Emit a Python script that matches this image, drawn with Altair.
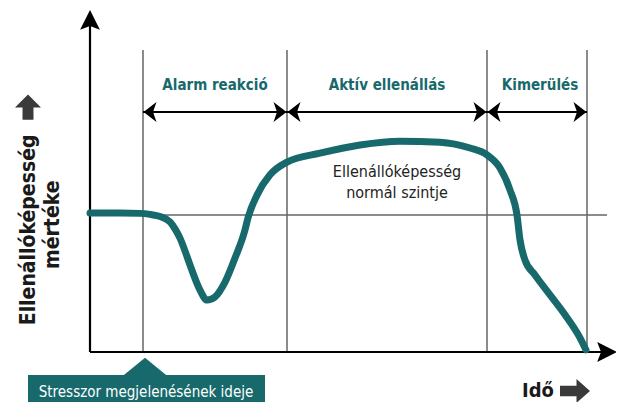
import altair as alt
import pandas as pd

# ---------------- data (time units / resistance-level units) ----------------
curve_t = [0, 6, 10, 12, 14, 16, 17, 18, 19, 20, 22, 23.4, 25, 27, 29, 31, 31.6, 33.4, 36,
           39.4, 46, 54, 62, 70, 76, 79.4, 82, 84, 85.4, 86, 87, 89, 92, 95, 98, 99.2]
curve_L = [40.4, 40.4, 40.3, 40.0, 39.4, 37.8, 35.8, 33.1, 29.4, 25.3, 18.0, 15.1, 16.0,
           20.3, 27.3, 35.5, 39.0, 45.6, 51.5, 55.2, 57.8, 60.2, 61.3, 61.0, 59.3, 57.3,
           53.5, 47.1, 39.8, 32.6, 26.7, 22.4, 16.6, 10.8, 4.1, 0.6]

divider_t = [10.6, 39.4, 79.4, 99.4]
divider_top = 87.8
normal_level = 39.8
normal_end = 103.4

phase_labels = ["Alarm reakció", "Aktív ellenállás", "Kimerülés"]
phase_start = [10.6, 39.4, 79.4]
phase_end = [39.4, 79.4, 99.4]
phase_label_t = [25, 59.4, 90]
phase_label_L = 77.6
phase_arrow_L = 69.8

normal_text = ["Ellenállóképesség", "normál szintje"]
normal_text_t = [61.4, 61.4]
normal_text_L = [52.3, 46.2]

ylabel_lines = ["Ellenállóképesség", "mértéke"]
ylabel_t = [-12.2, -7.4]
ylabel_L = [35.5, 37.0]

xlabel = "Idő"
stress_label = "Stresszor megjelenésének ideje"
stress_t = 11.0

TEAL = "#17696c"
GRAY = "#666666"
FONT = "DejaVu Sans Condensed, Liberation Sans Narrow, DejaVu Sans"

XS = alt.Scale(domain=[-16.4, 105.2], nice=False, zero=False)
YS = alt.Scale(domain=[-14.53, 100], nice=False, zero=False)


def X(f):
    return alt.X(f, type="quantitative", scale=XS, axis=None)


def Y(f):
    return alt.Y(f, type="quantitative", scale=YS, axis=None)


layers = []

# vertical dividers
div_df = pd.DataFrame({"t": divider_t, "y0": [0] * 4, "y1": [divider_top] * 4})
layers.append(alt.Chart(div_df).mark_rule(color=GRAY, strokeWidth=1.5).encode(
    x=X("t"), y=Y("y0"), y2="y1"))

# normal level line
norm_df = pd.DataFrame({"t0": [0], "t1": [normal_end], "L": [normal_level]})
layers.append(alt.Chart(norm_df).mark_rule(color=GRAY, strokeWidth=1.5).encode(
    x=X("t0"), x2="t1", y=Y("L")))

# axes
ax_df = pd.DataFrame({"t0": [0, 0], "t1": [102.5, 0], "L0": [0, 0], "L1": [0, 95.5]})
layers.append(alt.Chart(ax_df).mark_rule(color="black", strokeWidth=2.2).encode(
    x=X("t0"), x2="t1", y=Y("L0"), y2="L1"))

UP_HEAD = "M0,-1 L0.9,0.8 L0,0.45 L-0.9,0.8 Z"
RIGHT_HEAD = "M1,0 L-0.8,-0.9 L-0.45,0 L-0.8,0.9 Z"
layers.append(alt.Chart(pd.DataFrame({"t": [0], "L": [96.2]})).mark_point(
    shape=UP_HEAD, size=484, filled=True, color="black", opacity=1).encode(x=X("t"), y=Y("L")))
layers.append(alt.Chart(pd.DataFrame({"t": [103.2], "L": [0]})).mark_point(
    shape=RIGHT_HEAD, size=484, filled=True, color="black", opacity=1).encode(x=X("t"), y=Y("L")))

# phase double arrows
ph_df = pd.DataFrame({"label": phase_labels, "t0": phase_start, "t1": phase_end,
                      "tm": phase_label_t})
ph_df["L"] = phase_arrow_L
ph_df["LL"] = phase_label_L
ph_df["a0"] = ph_df["t0"] + 1.4
ph_df["a1"] = ph_df["t1"] - 1.4
layers.append(alt.Chart(ph_df).mark_rule(color="black", strokeWidth=2).encode(
    x=X("t0"), x2="t1", y=Y("L")))
L_BARB = "M-0.65,0 L0.65,-1 L0.3,0 L0.65,1 Z"
R_BARB = "M0.65,0 L-0.65,-1 L-0.3,0 L-0.65,1 Z"
layers.append(alt.Chart(ph_df).mark_point(shape=L_BARB, size=400, filled=True,
                                          color="black", opacity=1).encode(x=X("a0"), y=Y("L")))
layers.append(alt.Chart(ph_df).mark_point(shape=R_BARB, size=400, filled=True,
                                          color="black", opacity=1).encode(x=X("a1"), y=Y("L")))
layers.append(alt.Chart(ph_df).mark_text(font=FONT, fontSize=15, fontWeight="bold",
                                         color=TEAL, align="center", baseline="middle").encode(
    x=X("tm"), y=Y("LL"), text="label:N"))

# curve
cv_df = pd.DataFrame({"t": curve_t, "L": curve_L, "o": range(len(curve_t))})
layers.append(alt.Chart(cv_df).mark_line(color=TEAL, strokeWidth=7, interpolate="monotone",
                                         strokeCap="round").encode(
    x=X("t"), y=Y("L"), order="o:Q"))

# normal level text
nt_df = pd.DataFrame({"txt": normal_text, "t": normal_text_t, "L": normal_text_L})
layers.append(alt.Chart(nt_df).mark_text(font=FONT, fontSize=16, color="#222222",
                                         align="center", baseline="middle").encode(
    x=X("t"), y=Y("L"), text="txt:N"))

# y label
yl_df = pd.DataFrame({"txt": ylabel_lines, "t": ylabel_t, "L": ylabel_L})
layers.append(alt.Chart(yl_df).mark_text(font=FONT, fontSize=21, fontWeight="bold",
                                         color="#1a1a1a", angle=270, align="center",
                                         baseline="middle").encode(
    x=X("t"), y=Y("L"), text="txt:N"))

# block arrow icons
UP_BLOCK = "M0,-1 L0.95,-0.05 L0.4,-0.05 L0.4,0.85 L-0.4,0.85 L-0.4,-0.05 L-0.95,-0.05 Z"
RIGHT_BLOCK = "M1,0 L0.1,-0.8 L0.1,-0.35 L-1,-0.35 L-1,0.35 L0.1,0.35 L0.1,0.8 Z"
layers.append(alt.Chart(pd.DataFrame({"t": [-12.4], "L": [70.9]})).mark_point(
    shape=UP_BLOCK, size=750, filled=True, color="#3a3a3a", opacity=1).encode(x=X("t"), y=Y("L")))
layers.append(alt.Chart(pd.DataFrame({"t": [97.0], "L": [-11.3]})).mark_point(
    shape=RIGHT_BLOCK, size=900, filled=True, color="#3a3a3a", opacity=1).encode(x=X("t"), y=Y("L")))

# x label
layers.append(alt.Chart(pd.DataFrame({"txt": [xlabel], "t": [89.6], "L": [-11.3]})).mark_text(
    font=FONT, fontSize=20, fontWeight="bold", color="#1a1a1a", align="center",
    baseline="middle").encode(x=X("t"), y=Y("L"), text="txt:N"))

# stressor box with pointer
box_df = pd.DataFrame({"t0": [-12.4], "t1": [35.0], "L0": [-6.7], "L1": [-14.53]})
layers.append(alt.Chart(box_df).mark_rect(color=TEAL, opacity=1).encode(
    x=X("t0"), x2="t1", y=Y("L0"), y2="L1"))
POINTER = "M0,-0.4 L1,0.42 L-1,0.42 Z"
layers.append(alt.Chart(pd.DataFrame({"t": [stress_t], "L": [-4.2]})).mark_point(
    shape=POINTER, size=1936, filled=True, color=TEAL, opacity=1).encode(x=X("t"), y=Y("L")))
layers.append(alt.Chart(pd.DataFrame({"txt": [stress_label], "t": [11.2], "L": [-11.6]})).mark_text(
    font=FONT, fontSize=15, color="white", align="center", baseline="middle").encode(
    x=X("t"), y=Y("L"), text="txt:N"))

chart = alt.layer(*layers).properties(
    width=608, height=394, padding=0, autosize="none"
).configure_view(stroke=None)

chart.save("out.html", embed_options={"renderer": "svg", "actions": False})
